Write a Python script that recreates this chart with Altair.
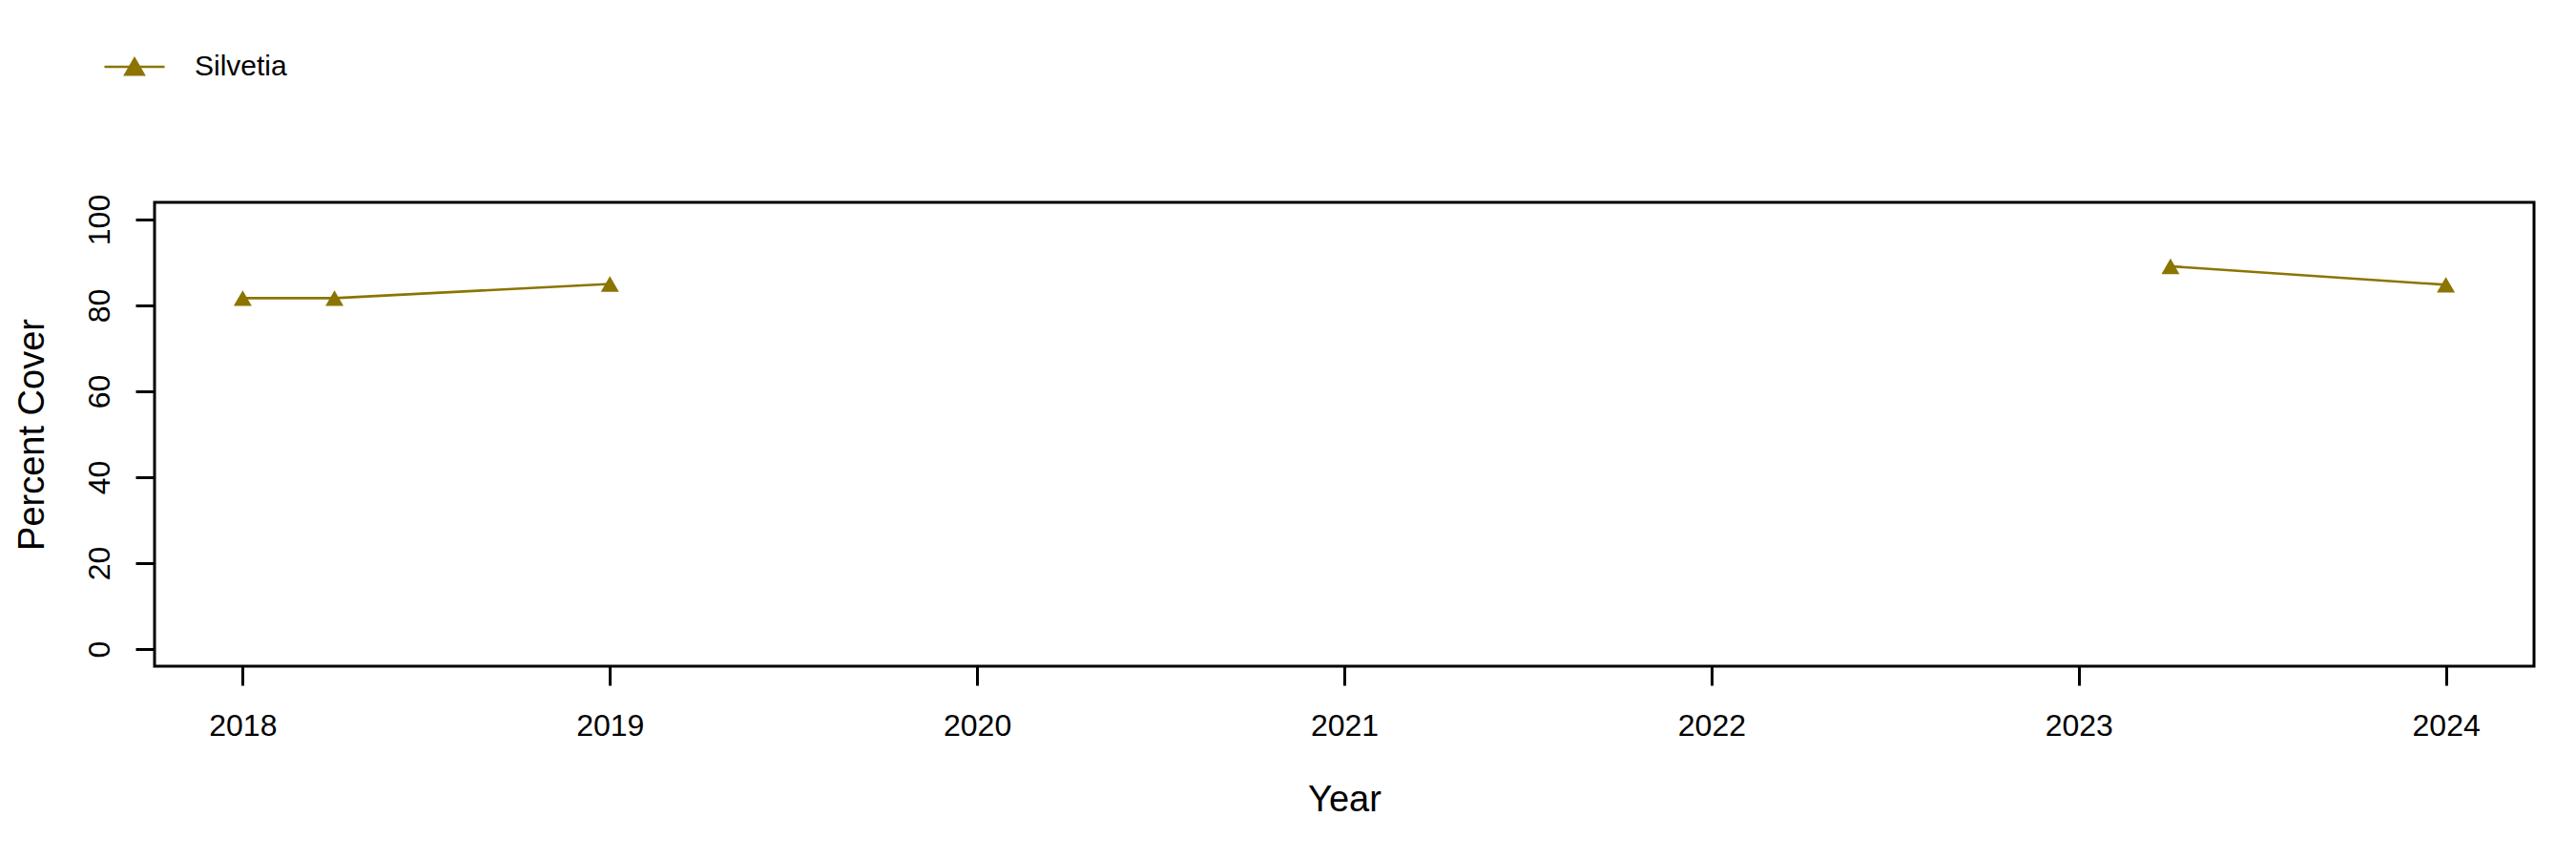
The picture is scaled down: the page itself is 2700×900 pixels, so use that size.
import altair as alt
import pandas as pd

# ---- data ----
years = [2018.0, 2018.25, 2019.0, 2023.25, 2024.0]
cover = [81.7, 81.7, 85.0, 89.1, 84.8]
segment = [1, 1, 1, 2, 2]
series = ["Silvetia"] * 5
x_ticks = [2018, 2019, 2020, 2021, 2022, 2023, 2024]
y_ticks = [0, 20, 40, 60, 80, 100]

COL = "#8B7500"
FONT = "Liberation Sans"

df = pd.DataFrame({"Year": years, "Cover": cover, "seg": segment, "Taxon": series})

W, H = 2494, 486

x_enc = alt.X(
    "Year:Q",
    scale=alt.Scale(domain=[2017.76, 2024.24], nice=False, zero=False),
    axis=alt.Axis(
        values=x_ticks, format="d", title="Year", grid=False, domain=False,
        tickSize=20, tickWidth=3, tickColor="black",
        labelFontSize=32, labelFont=FONT, labelColor="black", labelPadding=27,
        titleFontSize=38, titleFont=FONT, titleFontWeight="normal", titleColor="black",
        titleX=W / 2, titleY=151, titleBaseline="alphabetic", titleAnchor="middle",
    ),
)
y_enc = alt.Y(
    "Cover:Q",
    scale=alt.Scale(domain=[-4, 104], nice=False, zero=False),
    axis=alt.Axis(
        values=y_ticks, title="Percent Cover", grid=False, domain=False,
        tickSize=20, tickWidth=3, tickColor="black",
        labelFontSize=32, labelFont=FONT, labelColor="black", labelPadding=28,
        labelAngle=270, labelAlign="center", labelBaseline="alphabetic",
        titleFontSize=38, titleFont=FONT, titleFontWeight="normal", titleColor="black",
        titleX=-117, titleY=H / 2, titleAngle=270, titleBaseline="alphabetic",
        titleAlign="center",
    ),
)

legend_path = "M-1,0L1,0M0,-0.261L0.302,0.261L-0.302,0.261Z"
color_enc = alt.Color(
    "Taxon:N",
    scale=alt.Scale(domain=["Silvetia"], range=[COL]),
    legend=alt.Legend(
        title=None, orient="none", legendX=-54, legendY=-175, padding=0,
        symbolType=legend_path, symbolSize=3969, symbolStrokeWidth=2.7,
        symbolFillColor=COL, symbolStrokeColor=COL, symbolOpacity=1,
        labelFontSize=30, labelFont=FONT, labelColor="black", labelOffset=30,
    ),
)

lines = alt.Chart(df).mark_line(strokeWidth=2.6).encode(
    x=x_enc, y=y_enc, detail="seg:N", color=color_enc
)
points = alt.Chart(df).mark_point(
    shape="triangle-up", filled=True, size=360, opacity=1
).encode(x=x_enc, y=y_enc, color=color_enc)

chart = (
    alt.layer(lines, points)
    .properties(
        width=W, height=H,
        autosize=alt.AutoSizeParams(type="none"),
        padding={"left": 154, "top": 204, "right": 30, "bottom": 180},
        background="white",
    )
    .configure_view(stroke="black", strokeWidth=3)
)

chart.save("out.html", embed_options={"renderer": "svg", "actions": False})
